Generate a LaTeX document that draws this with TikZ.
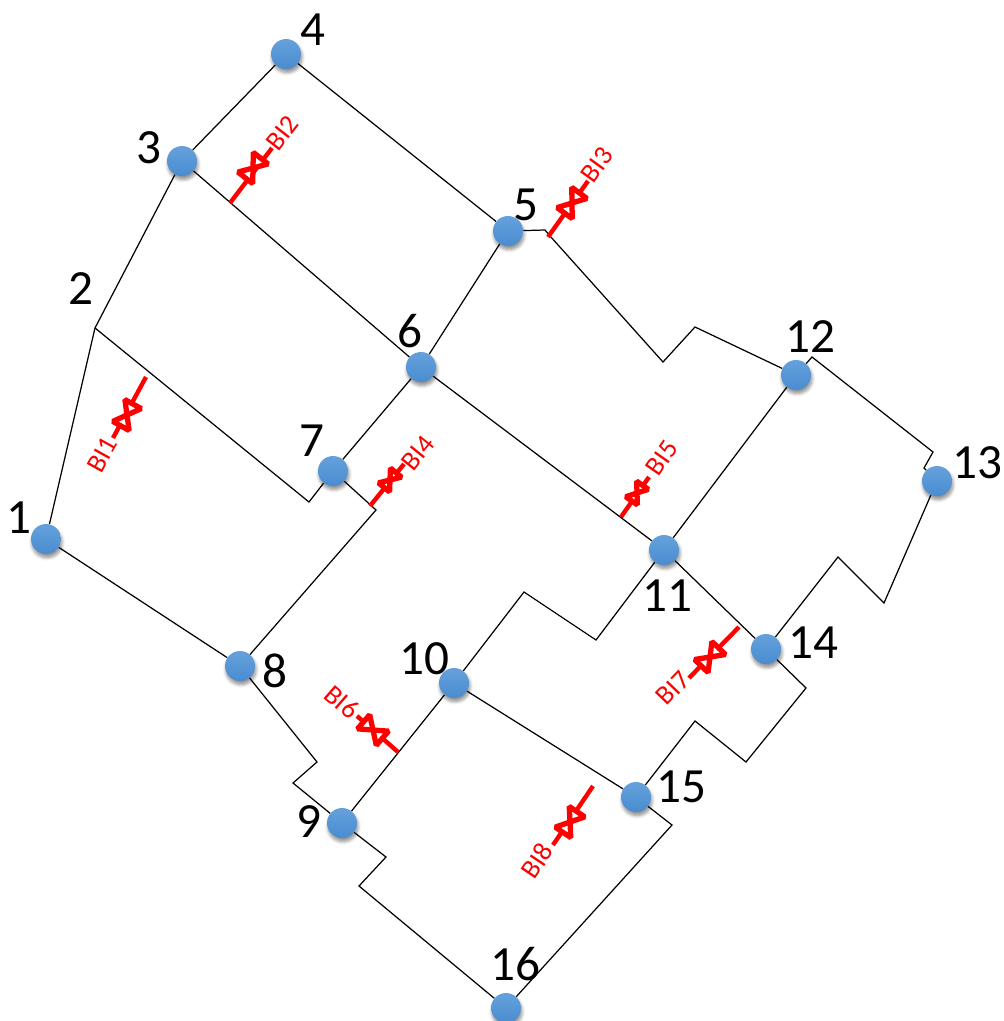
\documentclass[tikz,border=0pt]{standalone}
\usepackage{fontspec}
\setmainfont{Carlito}
\usetikzlibrary{calc,shadows.blur}
\definecolor{bustop}{RGB}{101,161,220}
\definecolor{busbot}{RGB}{74,140,208}
\tikzset{
  bus/.style={circle, minimum size=0.6cm, inner sep=0pt, top color=bustop, bottom color=busbot,
    blur shadow={shadow xshift=0.02cm, shadow yshift=-0.07cm, shadow blur steps=6, shadow opacity=45}},
  num/.style={font=\fontsize{28}{28}\selectfont, inner sep=0pt},
  biline/.style={red, line width=2.5pt},
  bilabel/.style={red, font=\fontsize{15.5}{15.5}\selectfont, inner sep=0pt},
  branch/.style={black, line width=0.7pt},
  pics/bowtie/.style={code={
    \draw[red, line width=3pt, fill=white, line join=bevel] (#1,0.75*#1) -- (-#1,-0.75*#1) -- (-#1,0.75*#1) -- (#1,-0.75*#1) -- cycle;
  }}
}
\begin{document}
\begin{tikzpicture}[x=0.02cm, y=-0.02cm]
\useasboundingbox (0,0) rectangle (1004,1021);
% Bends of the branches
\coordinate (j2) at (95,328);
\coordinate (j7) at (309,502);
\coordinate (j78) at (376,510);
\coordinate (j5a) at (545,230);
\coordinate (j5b) at (550,236);
\coordinate (j5c) at (663,362);
\coordinate (j5d) at (695,327);
\coordinate (j12a) at (812,357);
\coordinate (j12b) at (933,452);
\coordinate (j12c) at (924,468);
\coordinate (j14a) at (838,557);
\coordinate (j14b) at (884,603);
\coordinate (j11a) at (596,640);
\coordinate (j11b) at (524,592);
\coordinate (j14c) at (806,688);
\coordinate (j14d) at (746,762);
\coordinate (j14e) at (695,721);
\coordinate (j8a) at (317,762);
\coordinate (j8b) at (293,783);
\coordinate (j9a) at (386,857);
\coordinate (j9b) at (359,886);
\coordinate (j15) at (672,825);
% Buses
\node[bus] (b1) at (46,539) {};
\node[bus] (b3) at (182,161) {};
\node[bus] (b4) at (286,54) {};
\node[bus] (b5) at (508,231) {};
\node[bus] (b6) at (421,367) {};
\node[bus] (b7) at (333,471) {};
\node[bus] (b8) at (240,666) {};
\node[bus] (b9) at (342,823) {};
\node[bus] (b10) at (454,683) {};
\node[bus] (b11) at (664,550) {};
\node[bus] (b12) at (796,375) {};
\node[bus] (b13) at (937,481) {};
\node[bus] (b14) at (766,649) {};
\node[bus] (b15) at (636,797) {};
\node[bus] (b16) at (506,1008) {};
% Branches
\draw[branch] (b1) -- (j2) -- (b3);
\draw[branch] (j2) -- (j7) -- (b7);
\draw[branch] (b3) -- (b4);
\draw[branch] (b4) -- (b5);
\draw[branch] (b3) -- (b6);
\draw[branch] (b5) -- (b6);
\draw[branch] (b6) -- (b7);
\draw[branch] (b6) -- (b11);
\draw[branch] (b7) -- (j78) -- (b8);
\draw[branch] (b1) -- (b8);
\draw[branch] (b5) -- (j5a) -- (j5b) -- (j5c) -- (j5d) -- (b12);
\draw[branch] (b12) -- (j12a) -- (j12b) -- (j12c) -- (b13);
\draw[branch] (b11) -- (b12);
\draw[branch] (b11) -- (b14);
\draw[branch] (b11) -- (j11a) -- (j11b) -- (b10);
\draw[branch] (b14) -- (j14a) -- (j14b) -- (b13);
\draw[branch] (b14) -- (j14c) -- (j14d) -- (j14e) -- (b15);
\draw[branch] (b10) -- (b15);
\draw[branch] (b10) -- (b9);
\draw[branch] (b8) -- (j8a) -- (j8b) -- (b9);
\draw[branch] (b9) -- (j9a) -- (j9b) -- (b16);
\draw[branch] (b15) -- (j15) -- (b16);
% Bus numbers
\node[num] (n1) at (19,518) {1};
\node[num] (n2) at (81,289) {2};
\node[num] (n3) at (149,148) {3};
\node[num] (n4) at (313,30) {4};
\node[num] (n5) at (526,205) {5};
\node[num] (n6) at (410,331) {6};
\node[num] (n7) at (312,441) {7};
\node[num] (n8) at (275,671) {8};
\node[num] (n9) at (309,822) {9};
\node[num] (n10) at (424,659) {10};
\node[num] (n11) at (667,596) {11};
\node[num] (n12) at (810,337) {12};
\node[num] (n13) at (977,463) {13};
\node[num] (n14) at (813,643) {14};
\node[num] (n15) at (681,787) {15};
\node[num] (n16) at (515,964) {16};
% Breakers
\coordinate (bi1a) at (146,377); \coordinate (bi1b) at (113,438);
\draw[biline] (bi1a) -- (bi1b);
\pic[rotate=61] at (127,415) {bowtie=12.5};
\node[bilabel, rotate=61] (bi1) at (102,455) {BI1};
\coordinate (bi2a) at (230,203); \coordinate (bi2b) at (272,148);
\draw[biline] (bi2a) -- (bi2b);
\pic[rotate=52] at (253,168) {bowtie=12.5};
\node[bilabel, rotate=52] (bi2) at (282,133) {BI2};
\coordinate (bi3a) at (548,237); \coordinate (bi3b) at (588,181);
\draw[biline] (bi3a) -- (bi3b);
\pic[rotate=54] at (572,203) {bowtie=12.5};
\node[bilabel, rotate=54] (bi3) at (597,165) {BI3};
\coordinate (bi4a) at (370,506); \coordinate (bi4b) at (404,464);
\draw[biline] (bi4a) -- (bi4b);
\pic[rotate=51] at (390,480) {bowtie=9.5};
\node[bilabel, rotate=51] (bi4) at (418,453) {BI4};
\coordinate (bi5a) at (621,517); \coordinate (bi5b) at (649,477);
\draw[biline] (bi5a) -- (bi5b);
\pic[rotate=55] at (637,493) {bowtie=9.5};
\node[bilabel, rotate=55] (bi5) at (662,458) {BI5};
\coordinate (bi6a) at (398,752); \coordinate (bi6b) at (357,716);
\draw[biline] (bi6a) -- (bi6b);
\pic[rotate=-41] at (373,730) {bowtie=12.5};
\node[bilabel, rotate=-41] (bi6) at (342,702) {BI6};
\coordinate (bi7a) at (739,627); \coordinate (bi7b) at (689,678);
\draw[biline] (bi7a) -- (bi7b);
\pic[rotate=46] at (710,657) {bowtie=12.5};
\node[bilabel, rotate=46] (bi7) at (673,688) {BI7};
\coordinate (bi8a) at (593,786); \coordinate (bi8b) at (553,845);
\draw[biline] (bi8a) -- (bi8b);
\pic[rotate=56] at (570,822) {bowtie=12.5};
\node[bilabel, rotate=56] (bi8) at (537,861) {BI8};
\end{tikzpicture}
\end{document}
